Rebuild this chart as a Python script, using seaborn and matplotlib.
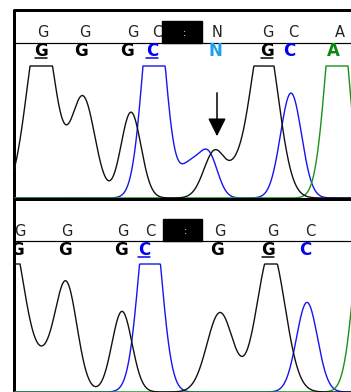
import numpy as np
import pandas as pd
import matplotlib
matplotlib.use("Agg")
import matplotlib.pyplot as plt
import seaborn as sns

sns.set_theme(style="white")
plt.rcParams['font.family'] = ['DejaVu Sans']

# ---- data: peak tables (position in scan units, height, width) ----
top_black_pos = [41, 83, 131, 215, 236, 264]
top_black_amp = [1.36, 0.76, 0.65, 0.36, 0.10, 1.29]
top_black_wid = [14, 12, 10, 11, 8, 14]
top_blue_pos = [154, 190, 209, 291]
top_blue_amp = [1.65, 0.25, 0.30, 0.795]
top_blue_wid = [11, 11, 9, 10.5]
top_green_pos = [337]
top_green_amp = [1.65]
top_green_wid = [11]

bot_black_pos = [8, 45, 66, 122, 220, 271]
bot_black_amp = [1.32, 0.15, 0.85, 0.63, 0.62, 1.11]
bot_black_wid = [16, 10, 11, 10, 13, 14]
bot_blue_pos = [150, 307]
bot_blue_amp = [1.57, 0.70]
bot_blue_wid = [11, 10.5]
bot_green_pos = [366]
bot_green_amp = [1.6]
bot_green_wid = [11]

# base calls: (letter, x position)
top_calls_plain = ["G", "G", "G", "C", "N", "G", "C", "A"]
top_calls_plain_x = [43, 85, 133, 157, 217, 268, 293, 340]
top_calls_bold = ["G", "G", "G", "C", "N", "G", "C", "A"]
top_calls_bold_x = [41, 81, 127, 152, 215, 267, 289, 333]
bot_calls_plain = ["G", "G", "G", "C", "G", "G", "C"]
bot_calls_plain_x = [20, 67, 123, 150, 220, 273, 310]
bot_calls_bold = ["G", "G", "G", "C", "G", "G", "C"]
bot_calls_bold_x = [17, 65, 121, 144, 217, 268, 305]

base_colors = {"G": "#000000", "C": "#0000ee", "N": "#1ea0f0", "A": "#0a8a0a"}


def trace(x, pos, amp, wid):
    y = np.zeros_like(x)
    for p, a, w in zip(pos, amp, wid):
        y += a * np.exp(-((x - p) ** 2) / (2 * w ** 2))
    return np.minimum(y, 1.0)


xs = np.arange(0, 400, 0.5)

fig = plt.figure(figsize=(3.51, 3.92), dpi=100)
fig.patch.set_facecolor("white")

# background / header axes in pixel coordinates
bg = fig.add_axes([0, 0, 1, 1])
bg.set_xlim(0, 351)
bg.set_ylim(392, 0)
bg.axis("off")

# trace axes
ax_top = fig.add_axes([14 / 351, 1 - 198 / 392, (351 - 14) / 351, (198 - 60) / 392])
ax_bot = fig.add_axes([14 / 351, 0, (351 - 14) / 351, (392 - 263) / 392])
for ax in (ax_top, ax_bot):
    ax.patch.set_alpha(0)

lw = 1.0
channels_top = [
    (top_blue_pos, top_blue_amp, top_blue_wid, "#1515f0"),
    (top_green_pos, top_green_amp, top_green_wid, "#18921e"),
    (top_black_pos, top_black_amp, top_black_wid, "#111111"),
]
channels_bot = [
    (bot_blue_pos, bot_blue_amp, bot_blue_wid, "#1515f0"),
    (bot_green_pos, bot_green_amp, bot_green_wid, "#18921e"),
    (bot_black_pos, bot_black_amp, bot_black_wid, "#111111"),
]
for ax, chans in ((ax_top, channels_top), (ax_bot, channels_bot)):
    for pos, amp, wid, col in chans:
        df = pd.DataFrame({"x": xs, "y": trace(xs, pos, amp, wid)})
        sns.lineplot(data=df, x="x", y="y", ax=ax, color=col, lw=lw,
                     estimator=None, sort=False)
    ax.set_xlim(14, 351)
    ax.axis("off")
ax_top.set_ylim(0, (198 - 60) / 132)
ax_bot.set_ylim(0, (392 - 263) / 128)

# frame lines
px = 0.72
bg.plot([12.5, 351], [10, 10], color="black", lw=3 * px, solid_capstyle="butt")
bg.plot([14, 351], [199, 199], color="black", lw=3 * px, solid_capstyle="butt")
bg.plot([14, 351], [43, 43], color="black", lw=1.2 * px)
bg.plot([14, 351], [241, 241], color="black", lw=1.2 * px)

# header letters
for letters, xsl, y in ((top_calls_plain, top_calls_plain_x, 32),
                        (bot_calls_plain, bot_calls_plain_x, 231)):
    for ch, x in zip(letters, xsl):
        bg.text(x, y, ch, color="#222222", fontsize=10.5, ha="center", va="center",
                zorder=2)
for letters, xsl, y in ((top_calls_bold, top_calls_bold_x, 50.5),
                        (bot_calls_bold, bot_calls_bold_x, 249.5)):
    for ch, x in zip(letters, xsl):
        bg.text(x, y, ch, color=base_colors[ch], fontsize=12, fontweight="bold",
                family="DejaVu Sans", ha="center", va="center", zorder=2)

# black selection boxes with ':'
for (x0, x1, y0, y1) in [(162, 202, 21, 43), (163, 202, 219, 241)]:
    bg.add_patch(plt.Rectangle((x0, y0), x1 - x0, y1 - y0, color="black", zorder=3))
    bg.text((x0 + x1) / 2 + 3, (y0 + y1) / 2 + 1, ":", color="white", fontsize=7,
            ha="center", va="center", zorder=4)

# white mask left of frame (letters cut at border)
bg.add_patch(plt.Rectangle((0, 0), 13, 392, color="white", zorder=5))
bg.plot([14, 14], [8.5, 392], color="black", lw=3 * px, solid_capstyle="butt", zorder=6)

# underlines beneath calls above clipped peaks
for x, y, c in [(41, 57.5, "black"), (152, 57.5, "#0000ee"), (267, 57.5, "black"),
                (144, 256.5, "#0000ee"), (268, 256.5, "black")]:
    bg.plot([x - 6, x + 6], [y, y], color=c, lw=1.5 * px)

# arrow
bg.annotate("", xy=(217, 139), xytext=(217, 90),
            arrowprops=dict(arrowstyle="-|>,head_length=1.1,head_width=0.55",
                            color="black", lw=1.1), fontsize=10)

fig.savefig("out.png", dpi=100, facecolor="white")
